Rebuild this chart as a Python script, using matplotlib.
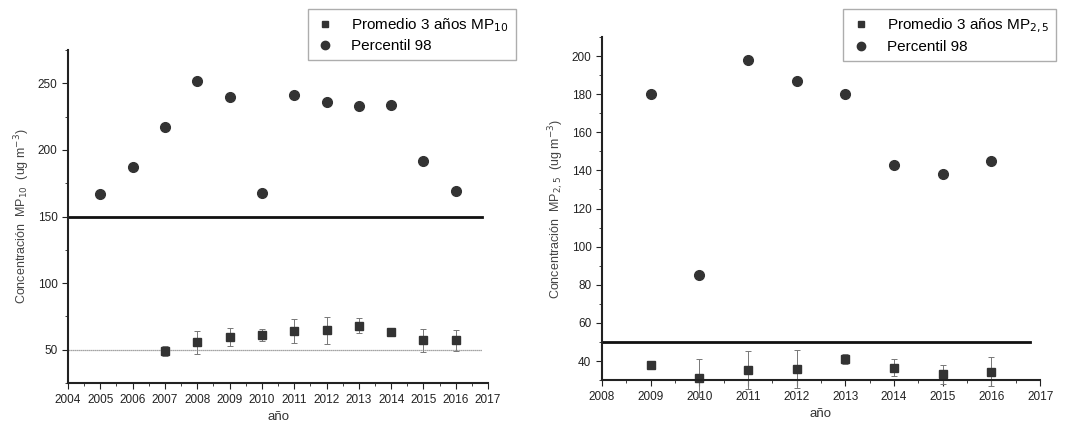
import matplotlib
matplotlib.use('agg')
import matplotlib.pyplot as plt
from matplotlib.ticker import MultipleLocator
from matplotlib.lines import Line2D

plt.rcParams['font.family'] = ['Liberation Sans', 'DejaVu Sans']

# MP10 panel
anos_p98_10 = [2005, 2006, 2007, 2008, 2009, 2010, 2011, 2012, 2013, 2014, 2015, 2016]
p98_10 = [167, 187, 217, 252, 240, 168, 241, 236, 233, 234, 192, 169]
anos_prom_10 = [2007, 2008, 2009, 2010, 2011, 2012, 2013, 2014, 2015, 2016]
prom_10 = [49, 55.5, 59.5, 61, 64, 64.5, 68, 63, 57, 57]
err_10 = [3.5, 8.5, 7, 4.5, 9, 10, 5.5, 3, 8.5, 8]
norma_10 = 150
ref_10 = 50

# MP2.5 panel
anos_p98_25 = [2009, 2010, 2011, 2012, 2013, 2014, 2015, 2016]
p98_25 = [180, 85, 198, 187, 180, 143, 138, 145]
anos_prom_25 = [2009, 2010, 2011, 2012, 2013, 2014, 2015, 2016]
prom_25 = [38, 31, 35.5, 36, 41, 36.5, 33, 34.5]
err_25 = [1, 10, 10, 10, 2.5, 4.5, 5, 7.5]
norma_25 = 50

col = '#333333'
fig = plt.figure(figsize=(10.69, 4.30), dpi=100)

def estilo(ax):
    for s in ['top', 'right']:
        ax.spines[s].set_visible(False)
    for s in ['left', 'bottom']:
        ax.spines[s].set_linewidth(1.5)
        ax.spines[s].set_color('#222222')
    ax.tick_params(which='both', direction='out', labelsize=8.5, colors='#222222')
    ax.tick_params(which='major', length=4)
    ax.tick_params(which='minor', length=2.5)

def leyenda(ax, etiqueta, x0):
    h = [Line2D([], [], ls='none', marker='s', ms=4.5, color=col),
         Line2D([], [], ls='none', marker='o', ms=6, color=col)]
    fig.legend(h, [etiqueta, 'Percentil 98'], loc='upper left',
               bbox_to_anchor=(x0, 0.978), fontsize=11, frameon=True,
               fancybox=False, edgecolor='#999999', borderpad=0.45,
               handletextpad=1.0, handlelength=1.4, labelspacing=0.35,
               borderaxespad=0)

# ---- left
ax1 = fig.add_axes([0.0636, 0.109, 0.393, 0.775])
ax1.errorbar(anos_prom_10, prom_10, yerr=err_10, fmt='s', ms=5.5, color=col,
             ecolor='#777777', elinewidth=0.7, capsize=2.5, capthick=0.7)
ax1.plot(anos_p98_10, p98_10, 'o', ms=7, color=col)
ax1.plot([2004, 2016.8], [norma_10, norma_10], color='#111111', lw=2)
ax1.plot([2004, 2016.8], [ref_10, ref_10], color='#888888', lw=0.9, ls=(0, (1, 0.6)))
ax1.set_xlim(2004, 2017)
ax1.set_ylim(25, 275)
ax1.set_xticks(range(2004, 2018))
ax1.xaxis.set_minor_locator(MultipleLocator(0.5))
ax1.set_yticks([50, 100, 150, 200, 250])
ax1.yaxis.set_minor_locator(MultipleLocator(25))
estilo(ax1)
ax1.set_xlabel('año', fontsize=9.5, color='#333333')
ax1.set_ylabel('Concentración  MP$_{10}$  (ug m$^{-3}$)', fontsize=9, color='#444444')
leyenda(ax1, 'Promedio 3 años MP$_{10}$', 0.288)

# ---- right
ax2 = fig.add_axes([0.563, 0.116, 0.41, 0.798])
ax2.errorbar(anos_prom_25, prom_25, yerr=err_25, fmt='s', ms=5.5, color=col,
             ecolor='#777777', elinewidth=0.7, capsize=2.5, capthick=0.7,
             clip_on=False)
ax2.plot(anos_p98_25, p98_25, 'o', ms=7, color=col)
ax2.plot([2008, 2016.8], [norma_25, norma_25], color='#111111', lw=2)
ax2.set_xlim(2008, 2017)
ax2.set_ylim(30, 210)
ax2.set_xticks(range(2008, 2018))
ax2.xaxis.set_minor_locator(MultipleLocator(0.5))
ax2.set_yticks(range(40, 201, 20))
ax2.yaxis.set_minor_locator(MultipleLocator(10))
estilo(ax2)
ax2.set_xlabel('año', fontsize=9.5, color='#333333')
ax2.set_ylabel('Concentración  MP$_{2,5}$  (ug m$^{-3}$)', fontsize=9, color='#444444')
leyenda(ax2, 'Promedio 3 años MP$_{2,5}$', 0.789)

fig.savefig('out.png', dpi=100, facecolor='white')
